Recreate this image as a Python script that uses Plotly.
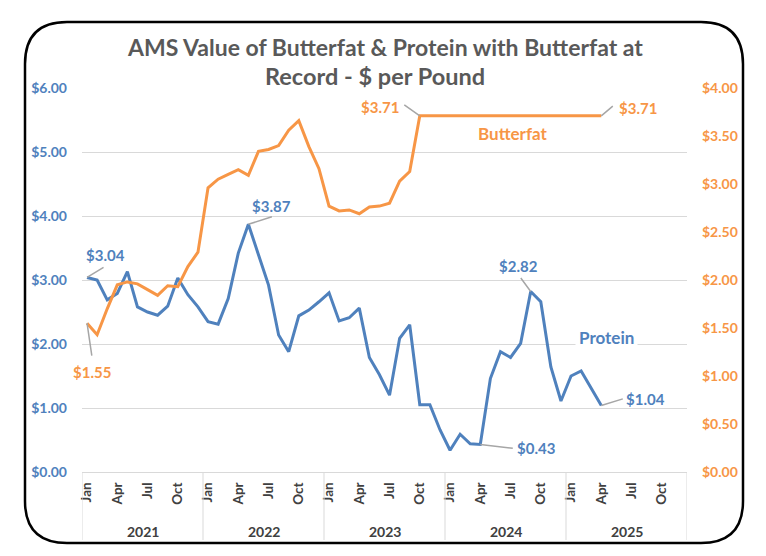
import plotly.graph_objects as go

# ---------------- data ----------------
years = ["2021", "2022", "2023", "2024", "2025"]
month_names = ["Jan", "Feb", "Mar", "Apr", "May", "Jun",
               "Jul", "Aug", "Sep", "Oct", "Nov", "Dec"]
tick_months = ["Jan", "Apr", "Jul", "Oct"]

protein = [3.04, 3.00, 2.69, 2.79, 3.13, 2.58, 2.50, 2.45, 2.59, 3.03, 2.77, 2.58,
           2.35, 2.31, 2.71, 3.42, 3.87, 3.39, 2.92, 2.14, 1.88, 2.44, 2.53, 2.66,
           2.80, 2.36, 2.41, 2.56, 1.79, 1.52, 1.20, 2.09, 2.30, 1.05, 1.05, 0.66,
           0.34, 0.59, 0.44, 0.43, 1.46, 1.88, 1.79, 2.01, 2.82, 2.66, 1.64, 1.11,
           1.50, 1.58, 1.31, 1.04]

butterfat = [1.55, 1.43, 1.70, 1.95, 1.98, 1.96, 1.90, 1.84, 1.94, 1.93, 2.14, 2.29,
             2.96, 3.05, 3.10, 3.15, 3.09, 3.34, 3.36, 3.40, 3.56, 3.66, 3.39, 3.16,
             2.77, 2.72, 2.73, 2.69, 2.76, 2.77, 2.80, 3.03, 3.13, 3.71, 3.71, 3.71,
             3.71, 3.71, 3.71, 3.71, 3.71, 3.71, 3.71, 3.71, 3.71, 3.71, 3.71, 3.71,
             3.71, 3.71, 3.71, 3.71]

left_ticks = [0, 1, 2, 3, 4, 5, 6]
right_ticks = [0, 0.5, 1.0, 1.5, 2.0, 2.5, 3.0, 3.5, 4.0]

# ---------------- styling ----------------
W, H = 766, 556
PL, PR, PT, PB = 82, 687, 88, 472      # plot area in pixels
BLUE = "#4F81BD"
ORANGE = "#F79646"
GRID = "#D9D9D9"
DARK = "#404040"
LEAD = "#A6A6A6"
FONT = "Lato"

categories = [f"{m} {y}" for y in years for m in month_names]
x_idx = list(range(len(protein)))


def xp(px):
    return (px - PL) / (PR - PL)


def yp(py):
    return (PB - py) / (PB - PT)


fig = go.Figure()
fig.add_trace(go.Scatter(x=x_idx, y=protein, mode="lines", name="Protein",
                         line=dict(color=BLUE, width=3), yaxis="y"))
fig.add_trace(go.Scatter(x=list(range(len(butterfat))), y=butterfat, mode="lines",
                         name="Butterfat", line=dict(color=ORANGE, width=3),
                         yaxis="y2"))

tickvals = [i for i, c in enumerate(categories) if c.split()[0] in tick_months]
ticktext = [categories[i].split()[0] for i in tickvals]

fig.update_layout(
    width=W, height=H,
    margin=dict(l=PL, r=W - PR, t=PT, b=H - PB),
    paper_bgcolor="white", plot_bgcolor="white",
    showlegend=False,
    font=dict(family=FONT),
    xaxis=dict(range=[-0.5, len(categories) - 0.5], tickvals=tickvals,
               ticktext=ticktext, tickangle=-90, showgrid=False,
               showline=True, linecolor=GRID, linewidth=1, ticks="",
               tickfont=dict(family=FONT, size=13.5, color=DARK, weight="bold"),
               ticklabelstandoff=4, zeroline=False),
    yaxis=dict(range=[0, 6], tickvals=left_ticks,
               ticktext=[f"${v:.2f}" for v in left_ticks],
               showgrid=True, gridcolor=GRID, gridwidth=1, zeroline=False,
               tickfont=dict(family=FONT, size=14, color=BLUE, weight="bold"),
               ticks="", ticklabelstandoff=14),
    yaxis2=dict(range=[0, 4], tickvals=right_ticks,
                ticktext=[f"${v:.2f}" for v in right_ticks],
                overlaying="y", side="right", showgrid=False, zeroline=False,
                tickfont=dict(family=FONT, size=14, color=ORANGE, weight="bold"),
                ticks="", ticklabelstandoff=14),
)

annotations = []
# title
annotations.append(dict(xref="paper", yref="paper", x=xp(385), y=yp(47),
                        text="AMS Value of Butterfat & Protein with Butterfat at",
                        showarrow=False, xanchor="center", yanchor="middle",
                        font=dict(family=FONT, size=23, color="#595959", weight="bold")))
annotations.append(dict(xref="paper", yref="paper", x=xp(375), y=yp(76),
                        text="Record - $ per Pound",
                        showarrow=False, xanchor="center", yanchor="middle",
                        font=dict(family=FONT, size=23.5, color="#595959", weight="bold")))

# year labels
for k, yr in enumerate(years):
    annotations.append(dict(xref="x", yref="paper", x=12 * k + 5.5, y=yp(531),
                            text=yr, showarrow=False, xanchor="center",
                            yanchor="middle",
                            font=dict(family=FONT, size=14, color=DARK, weight="bold")))

# data labels: (index, series, text offset, leader end offset)
labels = [
    (0, "p", (18, -22), (18, -11)),
    (0, "b", (5, 49), (5, 34)),
    (16, "p", (23, -18), (25, -8)),
    (33, "b", (-40, -9), (-17, -12)),
    (51, "b", (37, -8), (13, -11)),
    (44, "p", (-12, -26), (-11, -15)),
    (51, "p", (44, -6), (23, -7)),
    (39, "p", (56, 4), (34, 4)),
]
for idx, s, (tx, ty), (lx, ly) in labels:
    vals = protein if s == "p" else butterfat
    yref = "y" if s == "p" else "y2"
    col = BLUE if s == "p" else ORANGE
    v = vals[idx]
    annotations.append(dict(xref="x", yref=yref, x=idx, y=v, text="",
                            showarrow=True, arrowhead=0, arrowwidth=1.5,
                            arrowcolor=LEAD, ax=lx, ay=ly, standoff=0,
                            startstandoff=0))
    annotations.append(dict(xref="x", yref=yref, x=idx, y=v, text=f"${v:.2f}",
                            showarrow=False, xshift=tx, yshift=-ty,
                            xanchor="center", yanchor="middle",
                            font=dict(family=FONT, size=15, color=col, weight="bold")))

# series name labels
annotations.append(dict(xref="paper", yref="paper", x=xp(513), y=yp(133),
                        text="Butterfat", showarrow=False,
                        xanchor="center", yanchor="middle",
                        font=dict(family=FONT, size=17, color=ORANGE, weight="bold")))
annotations.append(dict(xref="paper", yref="paper", x=xp(606), y=yp(337),
                        text="Protein", showarrow=False, bgcolor="white",
                        borderpad=3, xanchor="center", yanchor="middle",
                        font=dict(family=FONT, size=17, color=BLUE, weight="bold")))

fig.update_layout(annotations=annotations)

# year separators below axis
shapes = []
for k in range(len(years) + 1):
    shapes.append(dict(type="line", xref="x", yref="paper",
                       x0=12 * k - 0.5, x1=12 * k - 0.5, y0=0, y1=yp(540),
                       line=dict(color=GRID, width=1)))

# rounded outer border
bl, br, bt, bb, r = 25, 743, 22, 543, 42
path = (f"M {xp(bl + r)},{yp(bt)} L {xp(br - r)},{yp(bt)} "
        f"Q {xp(br)},{yp(bt)} {xp(br)},{yp(bt + r)} "
        f"L {xp(br)},{yp(bb - r)} Q {xp(br)},{yp(bb)} {xp(br - r)},{yp(bb)} "
        f"L {xp(bl + r)},{yp(bb)} Q {xp(bl)},{yp(bb)} {xp(bl)},{yp(bb - r)} "
        f"L {xp(bl)},{yp(bt + r)} Q {xp(bl)},{yp(bt)} {xp(bl + r)},{yp(bt)} Z")
shapes.append(dict(type="path", xref="paper", yref="paper", path=path,
                   line=dict(color="black", width=2.5), layer="above"))
fig.update_layout(shapes=shapes)

fig.write_html("out.html",
               config={"displayModeBar": False},
               post_script="document.body.style.margin='0';"
                           "document.body.style.overflow='hidden';")
